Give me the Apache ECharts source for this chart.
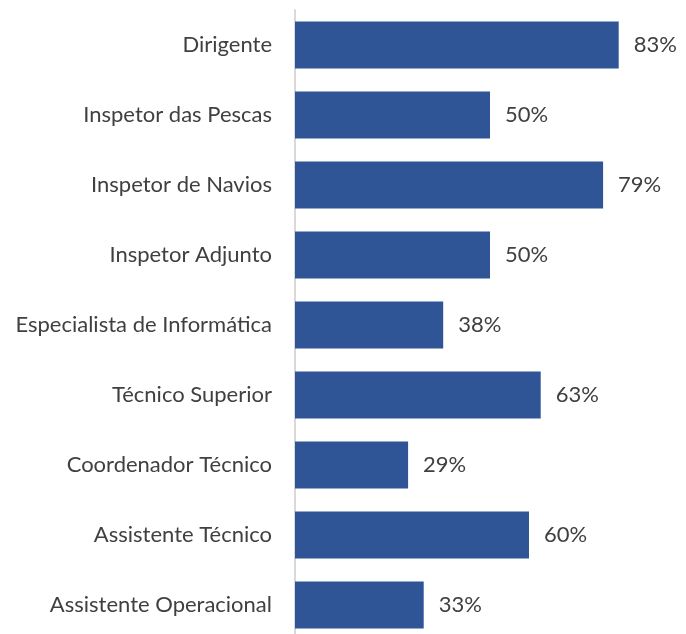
<!DOCTYPE html>
<html lang="pt">
<head>
    <meta charset="UTF-8">
    <title>Cargos</title>
    <script src="https://cdn.jsdelivr.net/npm/echarts@6/dist/echarts.min.js"></script>
    <style>
        html, body { margin: 0; padding: 0; background: #fff; overflow: hidden; }
    </style>
</head>
<body>
<!-- 640 de altura: o eixo continua um pouco abaixo do fim da imagem -->
<div id="main" style="width:686px;height:640px;"></div>

<script type="text/javascript">
    // categorias de cima para baixo
    var categorias = ['Dirigente', 'Inspetor das Pescas', 'Inspetor de Navios', 'Inspetor Adjunto',
        'Especialista de Informática', 'Técnico Superior', 'Coordenador Técnico',
        'Assistente Técnico', 'Assistente Operacional'];
    var valores = [83, 50, 79, 50, 38, 63, 29, 60, 33];

    var myChart = echarts.init(document.getElementById('main'));

    var option = {
        backgroundColor: '#ffffff',
        animation: false,
        grid: {
            left: 295,
            right: 1,
            top: 10,
            bottom: 0,
            containLabel: false
        },
        xAxis: {
            type: 'value',
            min: 0,
            max: 100,
            show: false
        },
        yAxis: {
            type: 'category',
            inverse: true,
            data: categorias,
            axisTick: { show: false },
            axisLine: { show: true, lineStyle: { color: '#d9d9d9', width: 2 } },
            axisLabel: {
                color: '#404040',
                fontFamily: 'Lato',
                fontSize: 22,
                margin: 23
            },
            splitLine: { show: false }
        },
        series: [{
            type: 'bar',
            data: valores,
            barCategoryGap: '33%',
            itemStyle: { color: '#2f5597' },
            label: {
                show: true,
                position: 'right',
                distance: 15,
                formatter: '{c}%',
                color: '#404040',
                fontFamily: 'Lato',
                fontSize: 22
            }
        }]
    };
    myChart.setOption(option);
</script>

</body>
</html>
